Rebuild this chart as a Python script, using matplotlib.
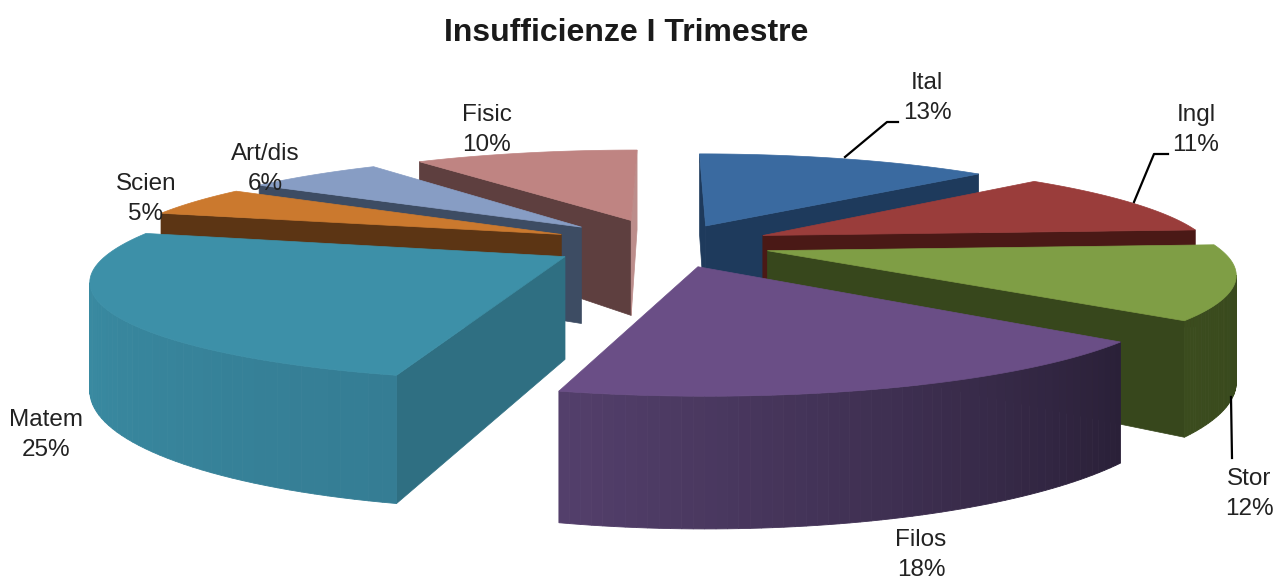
import numpy as np
import matplotlib
matplotlib.use("Agg")
import matplotlib.pyplot as plt
from matplotlib.patches import Polygon
from matplotlib.colors import to_rgb

title = "Insufficienze I Trimestre"
categories = ["Ital", "Ingl", "Stor", "Filos", "Matem", "Scien", "Art/dis", "Fisic"]
percents = [13, 11, 12, 18, 25, 5, 6, 10]

explode = [0.22, 0.235, 0.23, 0.245, 0.26, 0.265, 0.275, 0.28]
explode_nudge = [0, 0, 0, -0.012, 0, 0, 0, 0]
top_cols = ["#3A6AA0", "#9A3D3B", "#7F9E45", "#6A4E86", "#3D90A8", "#CB792E", "#879DC4", "#BF8482"]
start_wall_cols = ["#1E3A5C", "#4A1916", "#37471C", "#2E2440", "#2F6F82", "#5C3514", "#3D4C63", "#5E3F3F"]
end_wall_cols = ["#1E3A5C", "#4A1916", "#37471C", "#2E2440", "#2F6F82", "#5C3514", "#3D4C63", "#BC8D8B"]
wall_a = ["#1E3A5C", "#4A1916", "#36461B", "#2A2038", "#357D94", "#5C3514", "#3D4C63", "#5E3F3F"]
wall_b = ["#2A4E78", "#5A201E", "#3B4C1E", "#533F6B", "#3B91A8", "#6A3E14", "#3D4C63", "#5E3F3F"]
draw_order = [7, 6, 5, 0, 1, 4, 2, 3]
label_pos = [(927, 98), (1196, 130), (1249, 494), (921, 555), (46, 435), (146, 199), (265, 169), (487, 130)]

CX, CY, SX, SY, PERSP, HEIGHT = 668, 244, 448, 93, 0.2, 100


def project(X, Y, Z=0.0):
    w = 1 + PERSP * Y
    return CX + SX * X / w, CY - SY * Y / w + HEIGHT * Z / w


def visible(px, py, nx, ny):
    return (0 - px) * nx + (-1 / PERSP - py) * ny > 0


fig = plt.figure(figsize=(12.77, 5.81), dpi=100)
ax = fig.add_axes([0, 0, 1, 1])
ax.set_xlim(0, 1277)
ax.set_ylim(581, 0)
ax.axis("off")

edges = np.concatenate([[0], np.cumsum(percents)]) / np.sum(percents) * 2 * np.pi

for i in draw_order:
    a0, a1 = edges[i], edges[i + 1]
    mid = (a0 + a1) / 2
    ox, oy = explode[i] * np.sin(mid) + explode_nudge[i], explode[i] * np.cos(mid)
    th = np.linspace(a0, a1, 60)
    rx, ry = ox + np.sin(th), oy + np.cos(th)

    for ang, sgn, col in ((a0, -1, start_wall_cols[i]), (a1, 1, end_wall_cols[i])):
        ex, ey = ox + np.sin(ang), oy + np.cos(ang)
        nx, ny = sgn * np.cos(ang), -sgn * np.sin(ang)
        if visible(ox, oy, nx, ny):
            pts = [project(ox, oy), project(ex, ey), project(ex, ey, 1), project(ox, oy, 1)]
            ax.add_patch(Polygon(pts, closed=True, fc=col, ec=col, lw=0.5))

    ca, cb = np.array(to_rgb(wall_a[i])), np.array(to_rgb(wall_b[i]))
    for k in range(len(th) - 1):
        tm = (th[k] + th[k + 1]) / 2
        if visible(ox + np.sin(tm), oy + np.cos(tm), np.sin(tm), np.cos(tm)):
            t = k / (len(th) - 2)
            c = ca + (cb - ca) * t
            pts = [project(rx[k], ry[k]), project(rx[k + 1], ry[k + 1]),
                   project(rx[k + 1], ry[k + 1], 1), project(rx[k], ry[k], 1)]
            ax.add_patch(Polygon(pts, closed=True, fc=c, ec=c, lw=0.6))

    top = [project(ox, oy)] + [project(x, y) for x, y in zip(rx, ry)]
    ax.add_patch(Polygon(top, closed=True, fc=top_cols[i], ec=top_cols[i], lw=0.5))

ax.plot([845, 887, 898], [157, 122, 122], color="black", lw=1.6)
ax.plot([1134, 1154, 1168], [202, 154, 154], color="black", lw=1.6)
ax.plot([1231, 1232], [397, 458], color="black", lw=1.6)

for name, pct, (x, y) in zip(categories, percents, label_pos):
    ax.text(x, y, f"{name}\n{pct}%", ha="center", va="center", fontsize=17.5,
            family="Liberation Sans", color="#222222", linespacing=1.45)

ax.text(626, 33, title, ha="center", va="center", fontsize=23, fontweight="bold",
        family="Liberation Sans", color="#1a1a1a")

fig.savefig("out.png", dpi=100)
